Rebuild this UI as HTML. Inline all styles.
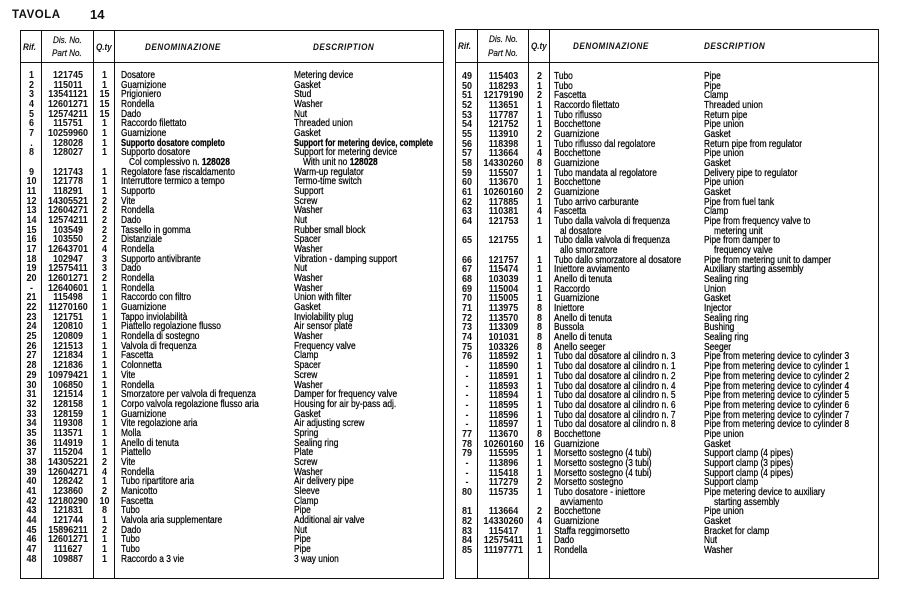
<!DOCTYPE html>
<html><head><meta charset="utf-8"><style>
html,body{margin:0;padding:0;background:#fff;}
body{width:900px;height:597px;position:relative;overflow:hidden;font-family:"Liberation Sans",sans-serif;color:#111;}
.title{position:absolute;top:7px;font-weight:bold;}
.tb{position:absolute;border:1.6px solid #111;box-sizing:border-box;}
.vl{position:absolute;top:0;bottom:0;width:0;border-left:1.3px solid #111;}
.hl{position:absolute;left:0;right:0;height:0;border-top:1.3px solid #111;}
.hd{position:absolute;font-style:italic;font-weight:bold;font-size:9px;white-space:nowrap;transform:scaleX(.9);transform-origin:0 0;}
.hd.n{font-weight:normal;-webkit-text-stroke:0.2px #111;}
.body{position:absolute;left:0;right:0;font-size:10px;}
.l{height:9.68px;line-height:9.68px;position:relative;}
.l span{position:absolute;top:0;white-space:nowrap;}
.a,.b,.c{font-weight:bold;text-align:center;transform:scaleX(.9);}
.a{left:0;width:21px;}
.b{left:21px;width:52px;}
.c{left:73px;width:21px;}
.d,.e{transform:scaleX(.84);transform-origin:0 50%;color:#000;-webkit-text-stroke:0.25px #000;}
.L .d{left:100px}.L .e{left:273px}
.R .a{width:22px}.R .b{left:22px;width:51px}
.R .d{left:98px}.R .e{left:248px}
.L .d.i{left:108px}.L .e.i{left:282px}
.R .d.i{left:109px}.R .e.i{left:258px}
.l span.bx{transform:scaleX(.76)}
b{font-weight:bold}
</style></head><body>
<div class="title" style="left:12px;font-size:11.5px;letter-spacing:.5px;top:9px">TAVOLA</div>
<div class="title" style="left:90px;font-size:13px;top:7px">14</div>

<div class="tb L" style="left:20px;top:30px;width:424px;height:549px;">
<div class="vl" style="left:20px"></div><div class="vl" style="left:72px"></div><div class="vl" style="left:93px"></div>
<div class="hl" style="top:31px"></div>
<div class="hd" style="left:2px;top:11px">Rif.</div>
<div class="hd n" style="left:32px;top:4px">Dis. No.</div>
<div class="hd n" style="left:31px;top:17px">Part No.</div>
<div class="hd" style="left:75px;top:11px">Q.ty</div>
<div class="hd" style="left:124px;top:11px;letter-spacing:.6px">DENOMINAZIONE</div>
<div class="hd" style="left:292px;top:11px;letter-spacing:.6px">DESCRIPTION</div>
<div class="body" style="top:40px">
<div class="l"><span class="a">1</span><span class="b">121745</span><span class="c">1</span><span class="d">Dosatore</span><span class="e">Metering device</span></div>
<div class="l"><span class="a">2</span><span class="b">115011</span><span class="c">1</span><span class="d">Guarnizione</span><span class="e">Gasket</span></div>
<div class="l"><span class="a">3</span><span class="b">13541121</span><span class="c">15</span><span class="d">Prigioniero</span><span class="e">Stud</span></div>
<div class="l"><span class="a">4</span><span class="b">12601271</span><span class="c">15</span><span class="d">Rondella</span><span class="e">Washer</span></div>
<div class="l"><span class="a">5</span><span class="b">12574211</span><span class="c">15</span><span class="d">Dado</span><span class="e">Nut</span></div>
<div class="l"><span class="a">6</span><span class="b">115751</span><span class="c">1</span><span class="d">Raccordo filettato</span><span class="e">Threaded union</span></div>
<div class="l"><span class="a">7</span><span class="b">10259960</span><span class="c">1</span><span class="d">Guarnizione</span><span class="e">Gasket</span></div>
<div class="l"><span class="a">.</span><span class="b">128028</span><span class="c">1</span><span class="d bx"><b>Supporto dosatore completo</b></span><span class="e bx"><b>Support for metering device, complete</b></span></div>
<div class="l"><span class="a">8</span><span class="b">128027</span><span class="c">1</span><span class="d">Supporto dosatore</span><span class="e">Support for metering device</span></div>
<div class="l"><span class="d i">Col complessivo n. <b>128028</b></span><span class="e i">With unit no <b>128028</b></span></div>
<div class="l"><span class="a">9</span><span class="b">121743</span><span class="c">1</span><span class="d">Regolatore fase riscaldamento</span><span class="e">Warm-up regulator</span></div>
<div class="l"><span class="a">10</span><span class="b">121778</span><span class="c">1</span><span class="d">Interruttore termico a tempo</span><span class="e">Termo-time switch</span></div>
<div class="l"><span class="a">11</span><span class="b">118291</span><span class="c">1</span><span class="d">Supporto</span><span class="e">Support</span></div>
<div class="l"><span class="a">12</span><span class="b">14305521</span><span class="c">2</span><span class="d">Vite</span><span class="e">Screw</span></div>
<div class="l"><span class="a">13</span><span class="b">12604271</span><span class="c">2</span><span class="d">Rondella</span><span class="e">Washer</span></div>
<div class="l"><span class="a">14</span><span class="b">12574211</span><span class="c">2</span><span class="d">Dado</span><span class="e">Nut</span></div>
<div class="l"><span class="a">15</span><span class="b">103549</span><span class="c">2</span><span class="d">Tassello in gomma</span><span class="e">Rubber small block</span></div>
<div class="l"><span class="a">16</span><span class="b">103550</span><span class="c">2</span><span class="d">Distanziale</span><span class="e">Spacer</span></div>
<div class="l"><span class="a">17</span><span class="b">12643701</span><span class="c">4</span><span class="d">Rondella</span><span class="e">Washer</span></div>
<div class="l"><span class="a">18</span><span class="b">102947</span><span class="c">3</span><span class="d">Supporto antivibrante</span><span class="e">Vibration - damping support</span></div>
<div class="l"><span class="a">19</span><span class="b">12575411</span><span class="c">3</span><span class="d">Dado</span><span class="e">Nut</span></div>
<div class="l"><span class="a">20</span><span class="b">12601271</span><span class="c">2</span><span class="d">Rondella</span><span class="e">Washer</span></div>
<div class="l"><span class="a">-</span><span class="b">12640601</span><span class="c">1</span><span class="d">Rondella</span><span class="e">Washer</span></div>
<div class="l"><span class="a">21</span><span class="b">115498</span><span class="c">1</span><span class="d">Raccordo con filtro</span><span class="e">Union with filter</span></div>
<div class="l"><span class="a">22</span><span class="b">11270160</span><span class="c">1</span><span class="d">Guarnizione</span><span class="e">Gasket</span></div>
<div class="l"><span class="a">23</span><span class="b">121751</span><span class="c">1</span><span class="d">Tappo inviolabilità</span><span class="e">Inviolability plug</span></div>
<div class="l"><span class="a">24</span><span class="b">120810</span><span class="c">1</span><span class="d">Piattello regolazione flusso</span><span class="e">Air sensor plate</span></div>
<div class="l"><span class="a">25</span><span class="b">120809</span><span class="c">1</span><span class="d">Rondella di sostegno</span><span class="e">Washer</span></div>
<div class="l"><span class="a">26</span><span class="b">121513</span><span class="c">1</span><span class="d">Valvola di frequenza</span><span class="e">Frequency valve</span></div>
<div class="l"><span class="a">27</span><span class="b">121834</span><span class="c">1</span><span class="d">Fascetta</span><span class="e">Clamp</span></div>
<div class="l"><span class="a">28</span><span class="b">121836</span><span class="c">1</span><span class="d">Colonnetta</span><span class="e">Spacer</span></div>
<div class="l"><span class="a">29</span><span class="b">10979421</span><span class="c">1</span><span class="d">Vite</span><span class="e">Screw</span></div>
<div class="l"><span class="a">30</span><span class="b">106850</span><span class="c">1</span><span class="d">Rondella</span><span class="e">Washer</span></div>
<div class="l"><span class="a">31</span><span class="b">121514</span><span class="c">1</span><span class="d">Smorzatore per valvola di frequenza</span><span class="e">Damper for frequency valve</span></div>
<div class="l"><span class="a">32</span><span class="b">128158</span><span class="c">1</span><span class="d">Corpo valvola regolazione flusso aria</span><span class="e">Housing for air by-pass adj.</span></div>
<div class="l"><span class="a">33</span><span class="b">128159</span><span class="c">1</span><span class="d">Guarnizione</span><span class="e">Gasket</span></div>
<div class="l"><span class="a">34</span><span class="b">119308</span><span class="c">1</span><span class="d">Vite regolazione aria</span><span class="e">Air adjusting screw</span></div>
<div class="l"><span class="a">35</span><span class="b">113571</span><span class="c">1</span><span class="d">Molla</span><span class="e">Spring</span></div>
<div class="l"><span class="a">36</span><span class="b">114919</span><span class="c">1</span><span class="d">Anello di tenuta</span><span class="e">Sealing ring</span></div>
<div class="l"><span class="a">37</span><span class="b">115204</span><span class="c">1</span><span class="d">Piattello</span><span class="e">Plate</span></div>
<div class="l"><span class="a">38</span><span class="b">14305221</span><span class="c">2</span><span class="d">Vite</span><span class="e">Screw</span></div>
<div class="l"><span class="a">39</span><span class="b">12604271</span><span class="c">4</span><span class="d">Rondella</span><span class="e">Washer</span></div>
<div class="l"><span class="a">40</span><span class="b">128242</span><span class="c">1</span><span class="d">Tubo ripartitore aria</span><span class="e">Air delivery pipe</span></div>
<div class="l"><span class="a">41</span><span class="b">123860</span><span class="c">2</span><span class="d">Manicotto</span><span class="e">Sleeve</span></div>
<div class="l"><span class="a">42</span><span class="b">12180290</span><span class="c">10</span><span class="d">Fascetta</span><span class="e">Clamp</span></div>
<div class="l"><span class="a">43</span><span class="b">121831</span><span class="c">8</span><span class="d">Tubo</span><span class="e">Pipe</span></div>
<div class="l"><span class="a">44</span><span class="b">121744</span><span class="c">1</span><span class="d">Valvola aria supplementare</span><span class="e">Additional air valve</span></div>
<div class="l"><span class="a">45</span><span class="b">15896211</span><span class="c">2</span><span class="d">Dado</span><span class="e">Nut</span></div>
<div class="l"><span class="a">46</span><span class="b">12601271</span><span class="c">1</span><span class="d">Tubo</span><span class="e">Pipe</span></div>
<div class="l"><span class="a">47</span><span class="b">111627</span><span class="c">1</span><span class="d">Tubo</span><span class="e">Pipe</span></div>
<div class="l"><span class="a">48</span><span class="b">109887</span><span class="c">1</span><span class="d">Raccordo a 3 vie</span><span class="e">3 way union</span></div>
</div>
</div>

<div class="tb R" style="left:455px;top:29px;width:424px;height:550px;">
<div class="vl" style="left:21px"></div><div class="vl" style="left:72px"></div><div class="vl" style="left:93px"></div>
<div class="hl" style="top:32px"></div>
<div class="hd" style="left:2px;top:11px">Rif.</div>
<div class="hd n" style="left:33px;top:4px">Dis. No.</div>
<div class="hd n" style="left:32px;top:18px">Part No.</div>
<div class="hd" style="left:75px;top:11px">Q.ty</div>
<div class="hd" style="left:117px;top:11px;letter-spacing:.6px">DENOMINAZIONE</div>
<div class="hd" style="left:248px;top:11px;letter-spacing:.6px">DESCRIPTION</div>
<div class="body" style="top:42px">
<div class="l"><span class="a">49</span><span class="b">115403</span><span class="c">2</span><span class="d">Tubo</span><span class="e">Pipe</span></div>
<div class="l"><span class="a">50</span><span class="b">118293</span><span class="c">1</span><span class="d">Tubo</span><span class="e">Pipe</span></div>
<div class="l"><span class="a">51</span><span class="b">12179190</span><span class="c">2</span><span class="d">Fascetta</span><span class="e">Clamp</span></div>
<div class="l"><span class="a">52</span><span class="b">113651</span><span class="c">1</span><span class="d">Raccordo filettato</span><span class="e">Threaded union</span></div>
<div class="l"><span class="a">53</span><span class="b">117787</span><span class="c">1</span><span class="d">Tubo riflusso</span><span class="e">Return pipe</span></div>
<div class="l"><span class="a">54</span><span class="b">121752</span><span class="c">1</span><span class="d">Bocchettone</span><span class="e">Pipe union</span></div>
<div class="l"><span class="a">55</span><span class="b">113910</span><span class="c">2</span><span class="d">Guarnizione</span><span class="e">Gasket</span></div>
<div class="l"><span class="a">56</span><span class="b">118398</span><span class="c">1</span><span class="d">Tubo riflusso dal regolatore</span><span class="e">Return pipe from regulator</span></div>
<div class="l"><span class="a">57</span><span class="b">113664</span><span class="c">4</span><span class="d">Bocchettone</span><span class="e">Pipe union</span></div>
<div class="l"><span class="a">58</span><span class="b">14330260</span><span class="c">8</span><span class="d">Guarnizione</span><span class="e">Gasket</span></div>
<div class="l"><span class="a">59</span><span class="b">115507</span><span class="c">1</span><span class="d">Tubo mandata al regolatore</span><span class="e">Delivery pipe to regulator</span></div>
<div class="l"><span class="a">60</span><span class="b">113670</span><span class="c">1</span><span class="d">Bocchettone</span><span class="e">Pipe union</span></div>
<div class="l"><span class="a">61</span><span class="b">10260160</span><span class="c">2</span><span class="d">Guarnizione</span><span class="e">Gasket</span></div>
<div class="l"><span class="a">62</span><span class="b">117885</span><span class="c">1</span><span class="d">Tubo arrivo carburante</span><span class="e">Pipe from fuel tank</span></div>
<div class="l"><span class="a">63</span><span class="b">110381</span><span class="c">4</span><span class="d">Fascetta</span><span class="e">Clamp</span></div>
<div class="l"><span class="a">64</span><span class="b">121753</span><span class="c">1</span><span class="d">Tubo dalla valvola di frequenza</span><span class="e">Pipe from frequency valve to</span></div>
<div class="l"><span class="d i" style="left:104px">al dosatore</span><span class="e i">metering unit</span></div>
<div class="l"><span class="a">65</span><span class="b">121755</span><span class="c">1</span><span class="d">Tubo dalla valvola di frequenza</span><span class="e">Pipe from damper to</span></div>
<div class="l"><span class="d i" style="left:104px">allo smorzatore</span><span class="e i">frequency valve</span></div>
<div class="l"><span class="a">66</span><span class="b">121757</span><span class="c">1</span><span class="d">Tubo dallo smorzatore al dosatore</span><span class="e">Pipe from metering unit to damper</span></div>
<div class="l"><span class="a">67</span><span class="b">115474</span><span class="c">1</span><span class="d">Iniettore avviamento</span><span class="e">Auxiliary starting assembly</span></div>
<div class="l"><span class="a">68</span><span class="b">103039</span><span class="c">1</span><span class="d">Anello di tenuta</span><span class="e">Sealing ring</span></div>
<div class="l"><span class="a">69</span><span class="b">115004</span><span class="c">1</span><span class="d">Raccordo</span><span class="e">Union</span></div>
<div class="l"><span class="a">70</span><span class="b">115005</span><span class="c">1</span><span class="d">Guarnizione</span><span class="e">Gasket</span></div>
<div class="l"><span class="a">71</span><span class="b">113975</span><span class="c">8</span><span class="d">Iniettore</span><span class="e">Injector</span></div>
<div class="l"><span class="a">72</span><span class="b">113570</span><span class="c">8</span><span class="d">Anello di tenuta</span><span class="e">Sealing ring</span></div>
<div class="l"><span class="a">73</span><span class="b">113309</span><span class="c">8</span><span class="d">Bussola</span><span class="e">Bushing</span></div>
<div class="l"><span class="a">74</span><span class="b">101031</span><span class="c">8</span><span class="d">Anello di tenuta</span><span class="e">Sealing ring</span></div>
<div class="l"><span class="a">75</span><span class="b">103326</span><span class="c">8</span><span class="d">Anello seeger</span><span class="e">Seeger</span></div>
<div class="l"><span class="a">76</span><span class="b">118592</span><span class="c">1</span><span class="d">Tubo dal dosatore al cilindro n. 3</span><span class="e">Pipe from metering device to cylinder 3</span></div>
<div class="l"><span class="a">-</span><span class="b">118590</span><span class="c">1</span><span class="d">Tubo dal dosatore al cilindro n. 1</span><span class="e">Pipe from metering device to cylinder 1</span></div>
<div class="l"><span class="a">-</span><span class="b">118591</span><span class="c">1</span><span class="d">Tubo dal dosatore al cilindro n. 2</span><span class="e">Pipe from metering device to cylinder 2</span></div>
<div class="l"><span class="a">-</span><span class="b">118593</span><span class="c">1</span><span class="d">Tubo dal dosatore al cilindro n. 4</span><span class="e">Pipe from metering device to cylinder 4</span></div>
<div class="l"><span class="a">-</span><span class="b">118594</span><span class="c">1</span><span class="d">Tubo dal dosatore al cilindro n. 5</span><span class="e">Pipe from metering device to cylinder 5</span></div>
<div class="l"><span class="a">-</span><span class="b">118595</span><span class="c">1</span><span class="d">Tubo dal dosatore al cilindro n. 6</span><span class="e">Pipe from metering device to cylinder 6</span></div>
<div class="l"><span class="a">-</span><span class="b">118596</span><span class="c">1</span><span class="d">Tubo dal dosatore al cilindro n. 7</span><span class="e">Pipe from metering device to cylinder 7</span></div>
<div class="l"><span class="a">-</span><span class="b">118597</span><span class="c">1</span><span class="d">Tubo dal dosatore al cilindro n. 8</span><span class="e">Pipe from metering device to cylinder 8</span></div>
<div class="l"><span class="a">77</span><span class="b">113670</span><span class="c">8</span><span class="d">Bocchettone</span><span class="e">Pipe union</span></div>
<div class="l"><span class="a">78</span><span class="b">10260160</span><span class="c">16</span><span class="d">Guarnizione</span><span class="e">Gasket</span></div>
<div class="l"><span class="a">79</span><span class="b">115595</span><span class="c">1</span><span class="d">Morsetto sostegno (4 tubi)</span><span class="e">Support clamp (4 pipes)</span></div>
<div class="l"><span class="a">-</span><span class="b">113896</span><span class="c">1</span><span class="d">Morsetto sostegno (3 tubi)</span><span class="e">Support clamp (3 pipes)</span></div>
<div class="l"><span class="a">-</span><span class="b">115418</span><span class="c">1</span><span class="d">Morsetto sostegno (4 tubi)</span><span class="e">Support clamp (4 pipes)</span></div>
<div class="l"><span class="a">-</span><span class="b">117279</span><span class="c">2</span><span class="d">Morsetto sostegno</span><span class="e">Support clamp</span></div>
<div class="l"><span class="a">80</span><span class="b">115735</span><span class="c">1</span><span class="d">Tubo dosatore - iniettore</span><span class="e">Pipe metering device to auxiliary</span></div>
<div class="l"><span class="d i" style="left:104px">avviamento</span><span class="e i">starting assembly</span></div>
<div class="l"><span class="a">81</span><span class="b">113664</span><span class="c">2</span><span class="d">Bocchettone</span><span class="e">Pipe union</span></div>
<div class="l"><span class="a">82</span><span class="b">14330260</span><span class="c">4</span><span class="d">Guarnizione</span><span class="e">Gasket</span></div>
<div class="l"><span class="a">83</span><span class="b">115417</span><span class="c">1</span><span class="d">Staffa reggimorsetto</span><span class="e">Bracket for clamp</span></div>
<div class="l"><span class="a">84</span><span class="b">12575411</span><span class="c">1</span><span class="d">Dado</span><span class="e">Nut</span></div>
<div class="l"><span class="a">85</span><span class="b">11197771</span><span class="c">1</span><span class="d">Rondella</span><span class="e">Washer</span></div>
</div>
</div>
</body></html>
